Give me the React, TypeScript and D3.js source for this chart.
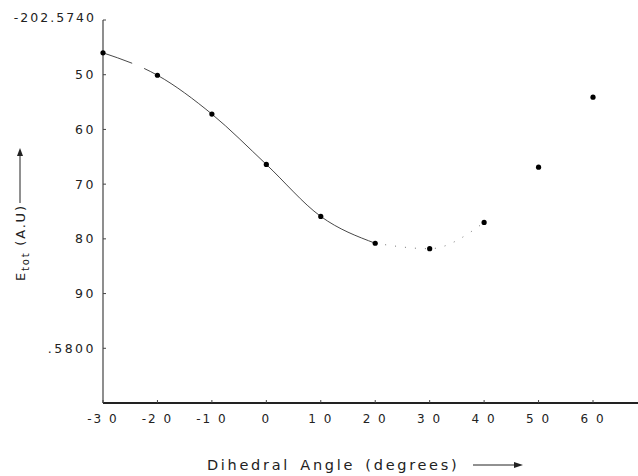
import React from "react";
import * as d3 from "d3";

const angles = [-30, -20, -10, 0, 10, 20, 30, 40, 50, 60];
const energies = [0.5746, 0.57501, 0.57572, 0.57664, 0.57759, 0.57808, 0.57818, 0.5777, 0.57669, 0.57541];
const solidAngles = [-30, -20, -10, 0, 10, 20];
const dottedAngles = [20, 30, 40];
const xTicks = [-30, -20, -10, 0, 10, 20, 30, 40, 50, 60];
const xTickLabels = ["-3 0", "-2 0", "-1 0", "0", "1 0", "2 0", "3 0", "4 0", "5 0", "6 0"];
const yTicks = [0.574, 0.575, 0.576, 0.577, 0.578, 0.579, 0.58];
const yTickLabels = ["-202.5740", "50", "60", "70", "80", "90", ".5800"];

export default function App() {
  const W = 638, H = 476;
  const x = d3.scaleLinear().domain([-30, 60]).range([103, 593]);
  const y = d3.scaleLinear().domain([0.574, 0.581]).range([20, 403]);
  const pts = angles.map((a, i) => ({ a, e: energies[i] }));
  const line = d3.line<{ a: number; e: number }>().x(d => x(d.a)).y(d => y(d.e)).curve(d3.curveMonotoneX);
  const solid = pts.filter(p => solidAngles.includes(p.a));
  const dotted = pts.filter(p => dottedAngles.includes(p.a));
  const font = "'DejaVu Sans', sans-serif";
  return (
    <svg width={W} height={H} style={{ position: "absolute", left: 0, top: 0, background: "#fff" }}>
      {/* y axis */}
      <line x1={x(-30)} x2={x(-30)} y1={y(0.574)} y2={y(0.581)} stroke="#444" strokeWidth={1.2} />
      {yTicks.map((t, i) => (
        <g key={t}>
          <line x1={x(-30)} x2={x(-30) + 3} y1={y(t)} y2={y(t)} stroke="#444" strokeWidth={1} />
          <text x={x(-30) - 7} y={y(t) - (i === 0 ? 2 : 0)} dy="0.35em" textAnchor="end" fontFamily={font} fontSize={12.5} fill="#222" letterSpacing={i === 0 ? 2 : 2.5}>
            {yTickLabels[i]}
          </text>
        </g>
      ))}
      {/* x axis */}
      <line x1={x(-30)} x2={W} y1={y(0.581)} y2={y(0.581)} stroke="#222" strokeWidth={2} />
      {xTicks.map((t, i) => (
        <g key={t}>
          <line x1={x(t)} x2={x(t)} y1={y(0.581)} y2={y(0.581) - 3} stroke="#444" strokeWidth={1} />
          <text x={x(t)} y={y(0.581) + 20} textAnchor="middle" fontFamily={font} fontSize={12} fill="#222" letterSpacing={2}>
            {xTickLabels[i]}
          </text>
        </g>
      ))}
      {/* curve */}
      <path d={line(solid) || ""} fill="none" stroke="#333" strokeWidth={0.9} strokeDasharray="31 13 400" />
      <path d={line(dotted) || ""} fill="none" stroke="#666" strokeWidth={0.9} strokeDasharray="1 9" />
      {pts.map(p => (
        <circle key={p.a} cx={x(p.a)} cy={y(p.e)} r={2.6} fill="#000" />
      ))}
      {/* axis titles */}
      <text x={207} y={470} fontFamily={font} fontSize={14.5} fill="#222" letterSpacing={2.7} wordSpacing={3}>
        Dihedral Angle (degrees)
      </text>
      <line x1={473} x2={520} y1={465} y2={465} stroke="#222" strokeWidth={1} />
      <path d="M 514 462 L 523 465 L 514 468 Z" fill="#222" />
      <g transform="translate(25, 281) rotate(-90)">
        <text x={0} y={0} fontFamily={font} fontSize={13} fill="#222" letterSpacing={1.8}>
          E<tspan fontSize={10} dy={4}>tot</tspan><tspan dy={-4}> (A.U)</tspan>
        </text>
        <line x1={78} x2={130} y1={-5} y2={-5} stroke="#222" strokeWidth={1} />
        <path d="M 125 -8 L 133 -5 L 125 -2 Z" fill="#222" />
      </g>
    </svg>
  );
}
